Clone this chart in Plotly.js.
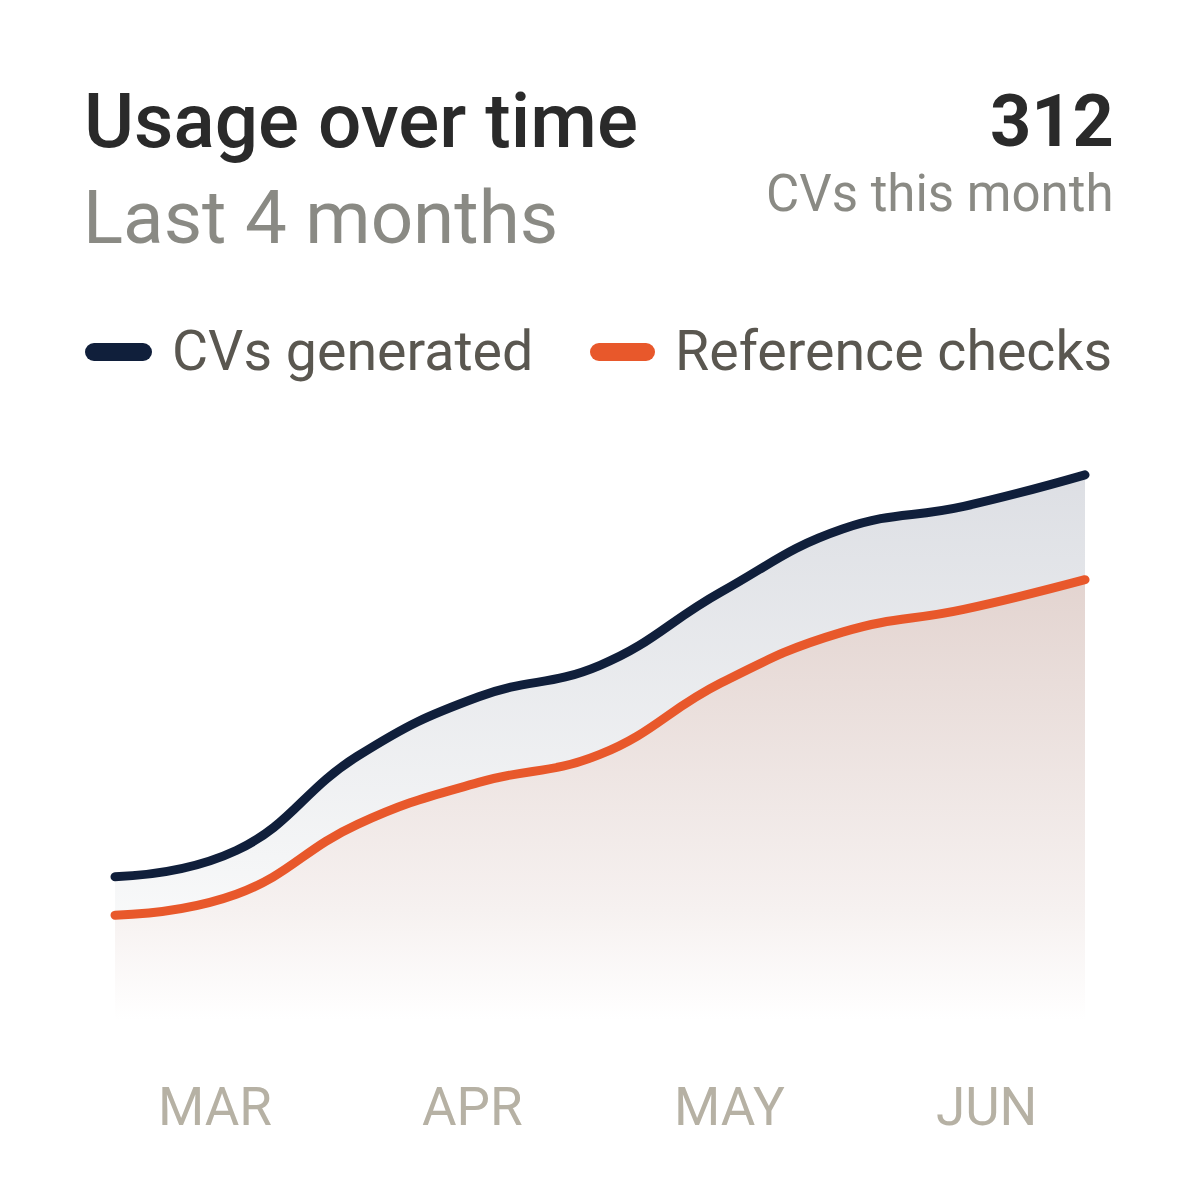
<!DOCTYPE html>
<html>
<head>
<meta charset="utf-8">
<script src="https://cdn.plot.ly/plotly-3.0.1.min.js"></script>
<style>
  html, body { margin: 0; padding: 0; background: #ffffff; }
  #chart { width: 1200px; height: 1200px; }
  .scatterlayer .js-line { stroke-linecap: round !important; }
  .shapelayer path { stroke-linecap: round !important; }
</style>
</head>
<body>
<div id="chart"></div>
<script>
// ---- data ----
const titleText = "Usage over time";
const subtitleText = "Last 4 months";
const kpiValue = "312";
const kpiLabel = "CVs this month";
const seriesNames = ["CVs generated", "Reference checks"];
const months = ["MAR", "APR", "MAY", "JUN"];
const periods = [1, 2, 3, 4, 5, 6, 7, 8, 9];
const cvsGenerated = [82, 97, 151, 185, 203, 245, 281, 294, 312];
const referenceChecks = [60, 72, 112, 136, 152, 193, 222, 235, 252];

// ---- style ----
const NAVY = "#101f3b";
const ORANGE = "#e8582b";
const FONT = "Roboto, Liberation Sans, Arial, sans-serif";
const W = 1200, H = 1200;
const px = v => v / W;           // x pixel -> paper
const py = v => 1 - v / H;       // y pixel -> paper

const traces = [
  {
    x: periods, y: cvsGenerated, name: seriesNames[0],
    type: "scatter", mode: "lines",
    line: { color: NAVY, width: 9, shape: "spline", smoothing: 1.3 },
    fill: "tozeroy",
    fillgradient: { type: "vertical", start: 0, stop: 312,
      colorscale: [[0, "#ffffff"], [0.3, "#f4f5f6"], [1, "#dddfe4"]] },
    hoverinfo: "skip"
  },
  {
    x: periods, y: referenceChecks, name: seriesNames[1],
    type: "scatter", mode: "lines",
    line: { color: ORANGE, width: 9, shape: "spline", smoothing: 1.3 },
    fill: "tozeroy",
    fillgradient: { type: "vertical", start: 0, stop: 252,
      colorscale: [[0, "#ffffff"], [0.25, "#f6f1f0"], [1, "#e3d4d0"]] },
    hoverinfo: "skip"
  }
];

const annotations = [
  { text: titleText, x: px(84), y: py(121), xanchor: "left", yanchor: "middle",
    font: { family: FONT, size: 76.5, color: "#2a2a2a", weight: 500 } },
  { text: subtitleText, x: px(83), y: py(217), xanchor: "left", yanchor: "middle",
    font: { family: FONT, size: 74.5, color: "#8a8a84" } },
  { text: kpiValue, x: px(1114), y: py(121), xanchor: "right", yanchor: "middle",
    font: { family: FONT, size: 72, color: "#2a2a2a", weight: 700 } },
  { text: kpiLabel, x: px(1114), y: py(193), xanchor: "right", yanchor: "middle",
    font: { family: FONT, size: 51, color: "#8a8a84" } },
  { text: seriesNames[0], x: px(172), y: py(351), xanchor: "left", yanchor: "middle",
    font: { family: FONT, size: 55.5, color: "#5a5750" } },
  { text: seriesNames[1], x: px(675), y: py(351), xanchor: "left", yanchor: "middle",
    font: { family: FONT, size: 55.5, color: "#5a5750" } }
];
months.forEach((m, i) => {
  annotations.push({ text: m, x: px(215 + i * 257), y: py(1107), xanchor: "center", yanchor: "middle",
    font: { family: FONT, size: 53, color: "#b6b1a4" } });
});
annotations.forEach(a => { a.xref = "paper"; a.yref = "paper"; a.showarrow = false; a.borderpad = 0; a.borderwidth = 0; });

const shapes = [
  { type: "line", xref: "paper", yref: "paper", x0: px(94), x1: px(143), y0: py(352), y1: py(352),
    line: { color: NAVY, width: 18 } },
  { type: "line", xref: "paper", yref: "paper", x0: px(599), x1: px(646), y0: py(352), y1: py(352),
    line: { color: ORANGE, width: 18 } }
];

const xPad = 5 / (970 / (periods.length - 1));
const layout = {
  width: W, height: H,
  margin: { l: 0, r: 0, t: 0, b: 0 },
  paper_bgcolor: "#ffffff", plot_bgcolor: "rgba(0,0,0,0)",
  showlegend: false,
  hovermode: false,
  xaxis: { domain: [px(115) - 5 / W, px(1085) + 5 / W], range: [periods[0] - xPad, periods[periods.length - 1] + xPad],
    visible: false, fixedrange: true },
  yaxis: { domain: [py(1020), py(391)], range: [0, 360], visible: false, fixedrange: true },
  annotations: annotations,
  shapes: shapes
};

Plotly.newPlot("chart", traces, layout, { displayModeBar: false, staticPlot: true });
</script>
</body>
</html>
